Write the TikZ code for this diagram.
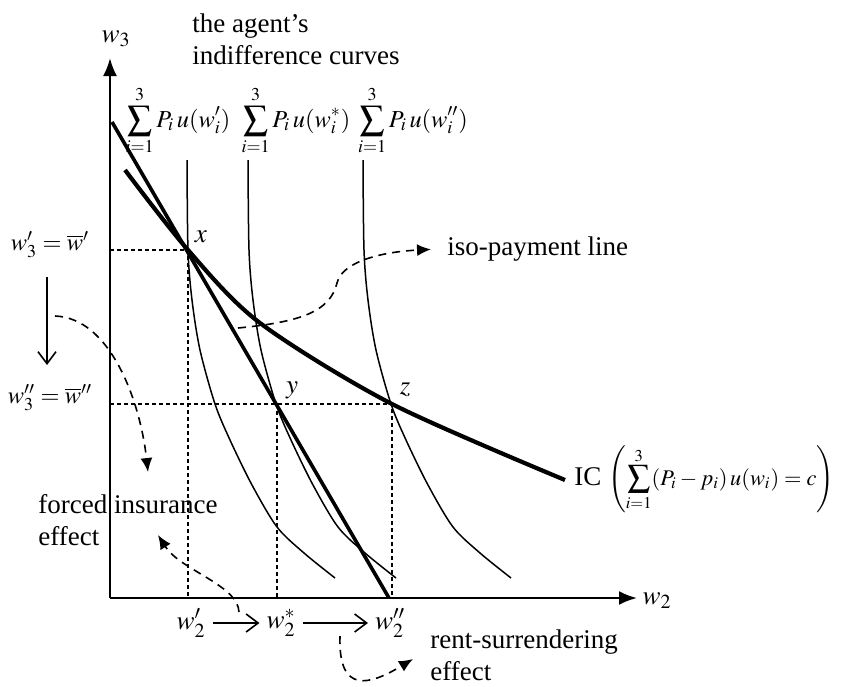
\documentclass[tikz,border=0pt]{standalone}
\usepackage{amsmath}
\usepackage{mathptmx}
\usepackage[no-math]{fontspec}
\setmainfont{Liberation Serif}
\usetikzlibrary{arrows.meta}
\newcommand{\klein}{\fontsize{11.2}{13}\selectfont}
\newcommand{\mittel}{\fontsize{12.2}{14}\selectfont}
\tikzset{
	dick/.style={line width=2.1pt},
	kurve/.style={line width=0.75pt},
	hilf/.style={line width=0.6pt, dash pattern=on 2pt off 1.5pt},
	effekt/.style={line width=0.8pt, dash pattern=on 4pt off 3pt, -{Latex[length=7pt,width=6pt]}},
	schub/.style={line width=0.8pt, -{Straight Barb[length=6pt,width=9pt]}},
	achse/.style={line width=1.2pt, -{Latex[length=9pt,width=7pt]}},
	txt/.style={align=left, inner sep=0pt, anchor=north west},
	niveau/.style={anchor=base, inner sep=0pt, font=\mittel},
}
\begin{document}
\begin{tikzpicture}[x=0.5pt, y=-0.5pt, font=\fontsize{13.5}{16}\selectfont]
	\useasboundingbox (0,0) rectangle (841,686);
	% Hilfslinien
	\draw[hilf] (110,250) -| (188,598);
	\draw[hilf] (110,404) -| (392,598);
	\draw[hilf] (277,404) -- (277,598);
	% Indifferenzkurven
	\foreach \s in {0,61,176}
		\draw[kurve, shift={(\s,0)}] plot[smooth] coordinates {(187,160) (188,250) (192,300) (200,350) (215,404) (230,440) (252,485) (277,527) (304,553) (335,578)};
	% Achsen
	\draw[achse] (110,598) -- (110,58);
	\draw[achse] (110,598) -- (637,598);
	\node (w3lab) at (116,39) {$w_3$};
	\node (w2lab) at (657,601) {$w_2$};
	% IC und Gerade
	\draw[dick] plot[smooth] coordinates {(125,170) (188,250) (260,323) (392,404) (565,480)};
	\draw[line width=1.8pt] (112,122) -- (389,598);
	% Punkte
	\node (px) at (201,237) {$x$};
	\node (py) at (292,390) {$y$};
	\node (pz) at (405,390) {$z$};
	% Nutzenniveaus
	\node[niveau] (sum1) at (178,127) {$\displaystyle\sum_{i=1}^{3} P_i\, u(w_i')$};
	\node[niveau] (sum2) at (296,127) {$\displaystyle\sum_{i=1}^{3} P_i\, u(w_i^{*})$};
	\node[niveau] (sum3) at (413,127) {$\displaystyle\sum_{i=1}^{3} P_i\, u(w_i'')$};
	\node[txt] (agent) at (192,13) {the agent's\\indifference curves};
	% linke Seite
	\node[font=\mittel] (links1) at (50,245) {$w_3' = \overline{w}'$};
	\node[font=\mittel] (links2) at (50,398) {$w_3'' = \overline{w}''$};
	\coordinate (ab1) at (47,277);
	\coordinate (ab2) at (47,365);
	\draw[schub] (ab1) -- (ab2);
	% untere Seite
	\node (w2a) at (191,623) {$w_2'$};
	\node (w2b) at (281,623) {$w_2^{*}$};
	\node (w2c) at (390,623) {$w_2''$};
	\draw[schub] (w2a) -- (w2b);
	\draw[schub] (w2b) -- (w2c);
	% Effekte
	\node[txt] (forced) at (38,494) {forced insurance\\effect};
	\node[txt] (rent) at (430,629) {rent-surrendering\\effect};
	\node[anchor=base west, inner sep=0pt] (iso) at (447,255) {iso-payment line};
	\node[anchor=base west, inner sep=0pt] (ic) at (574,485) {IC\ {\klein$\left(\displaystyle\sum_{i=1}^{3}(P_i - p_i)\,u(w_i) = c\right)$}};
	\coordinate (iso0) at (238,328);
	\draw[effekt, shorten >=8pt] (iso0) .. controls (300,322) and (330,312) .. (337,283) .. controls (342,262) and (380,252) .. (iso.west);
	\coordinate (fi0) at (55,316);
	\coordinate (fi1) at (148,472);
	\draw[effekt] (fi0) .. controls (110,318) and (140,400) .. (fi1);
	\coordinate (fi2) at (239,612);
	\coordinate (fi3) at (158,535);
	\draw[effekt] (fi2) .. controls (238,585) and (180,570) .. (fi3);
	\coordinate (rs0) at (340,636);
	\coordinate (rs1) at (413,659);
	\draw[effekt] (rs0) .. controls (338,695) and (370,685) .. (rs1);
\end{tikzpicture}
\end{document}
